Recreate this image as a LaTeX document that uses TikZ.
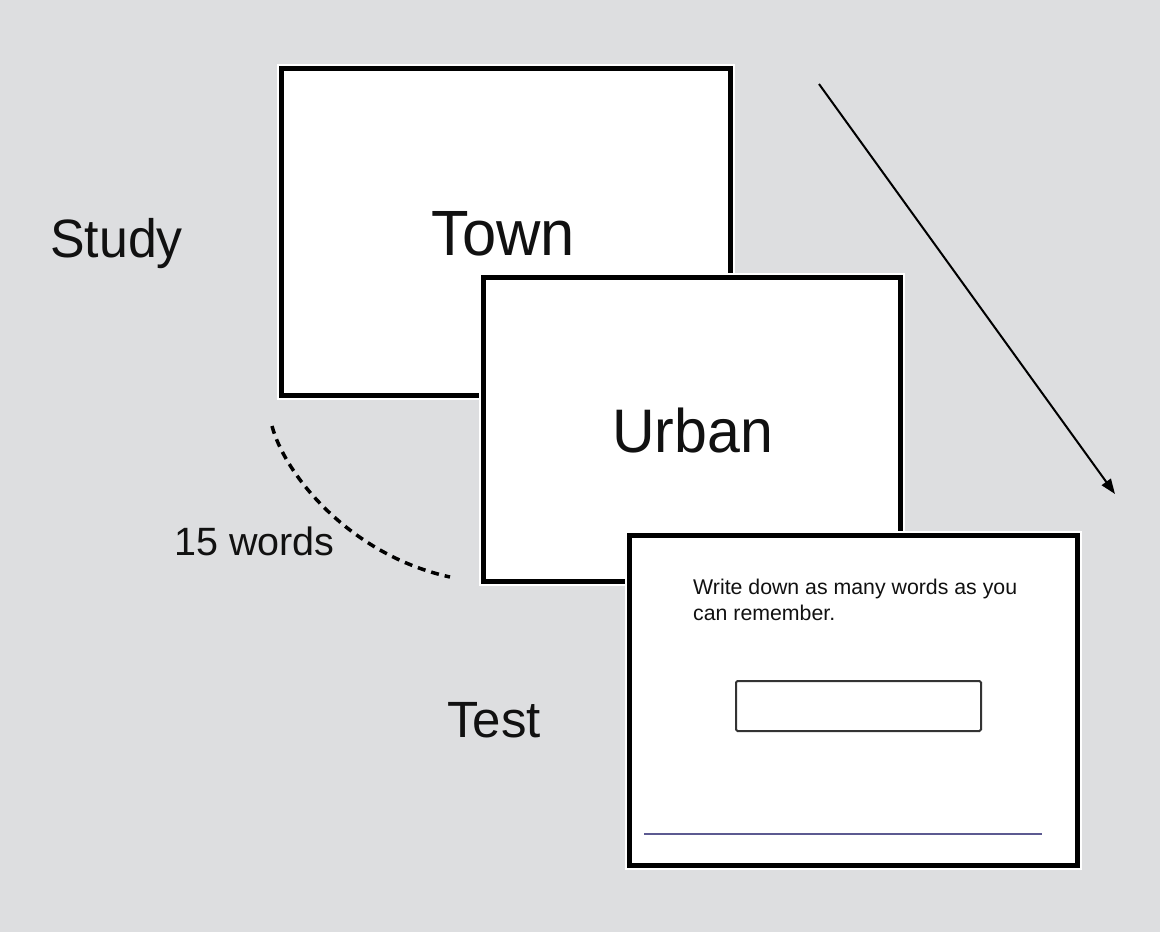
\documentclass[tikz,border=0pt]{standalone}
\usepackage{fontspec}
\setmainfont{Liberation Sans}
\newfontfamily\narrowsans[FakeStretch=0.96]{Liberation Sans}
\usetikzlibrary{arrows.meta}
\definecolor{bg}{RGB}{221,222,224}
\definecolor{ink}{RGB}{17,17,17}
\definecolor{rule}{RGB}{92,90,145}
\definecolor{field}{RGB}{51,51,51}
\begin{document}
\begin{tikzpicture}[x=1pt,y=-1pt,
  card/.style={draw=black, fill=white, line width=5pt, inner sep=0pt,
    preaction={draw=white, line width=9pt}},
  label/.style={text=ink, inner sep=0pt, anchor=base west},
  word/.style={text=ink, inner sep=0pt, anchor=base}]
  % canvas
  \fill[bg] (0,0) rectangle (1160,932);
  \useasboundingbox (0,0) rectangle (1160,932);

  % study cards
  \node[card, minimum width=449pt, minimum height=327pt] (card1) at (506,232) {};
  \node[word, font=\narrowsans\fontsize{64}{70}\selectfont] (town) at (503,255) {Town};
  \node[card, minimum width=417pt, minimum height=304pt] (card2) at (692,429.5) {};
  \node[word, font=\narrowsans\fontsize{61.5}{68}\selectfont] (urban) at (692.5,452) {Urban};

  % test card
  \node[card, minimum width=448pt, minimum height=330pt] (card3) at (853.5,700.5) {};
  \node[label, font=\fontsize{21.3}{26}\selectfont] (prompt1) at (693,594) {Write down as many words as you};
  \node[label, font=\fontsize{21.3}{26}\selectfont] (prompt2) at (693,620) {can remember.};
  \node[draw=field, fill=white, line width=2pt, rounded corners=1.5pt,
        minimum width=245pt, minimum height=50pt, inner sep=0pt] (answer) at (858.5,706) {};
  \coordinate (ruleL) at (644,834);
  \coordinate (ruleR) at (1042,834);
  \draw[rule, line width=2.5pt] (ruleL) -- (ruleR);

  % side labels
  \node[label, font=\narrowsans\fontsize{54}{60}\selectfont] (study) at (50,257) {Study};
  \node[label, font=\fontsize{51}{58}\selectfont] (test) at (447,737) {Test};
  \node[label, font=\fontsize{39.5}{46}\selectfont] (count) at (174,555) {15 words};

  % sequence of study words (dashed)
  \coordinate (arcA) at (272,426);
  \coordinate (arcB) at (450,577);
  \draw[black, line width=3.5pt, dash pattern=on 8pt off 6pt]
    (arcA) .. controls (285,475) and (350,555) .. (arcB);

  % time arrow
  \coordinate (timeA) at (819,84);
  \coordinate (timeB) at (1115,494);
  \draw[black, line width=2pt, -{Triangle[length=15pt,width=11pt]}] (timeA) -- (timeB);
\end{tikzpicture}
\end{document}
